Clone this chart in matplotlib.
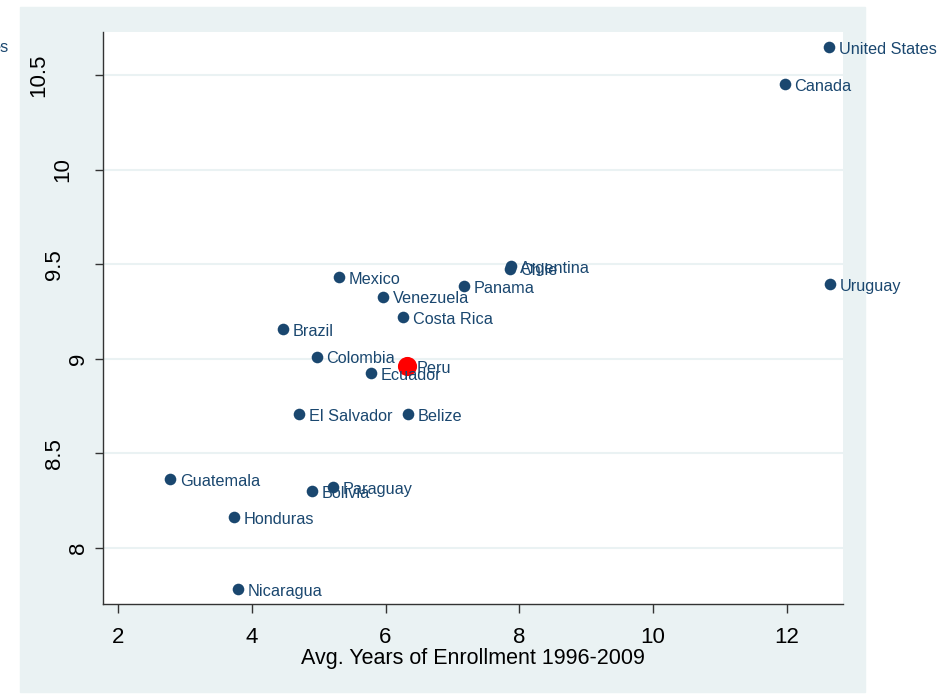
import matplotlib.pyplot as plt
from matplotlib.patches import Rectangle

# country data
countries = ["United States", "Canada", "Uruguay", "Argentina", "Chile", "Panama",
             "Mexico", "Venezuela", "Costa Rica", "Brazil", "Colombia", "Ecuador",
             "El Salvador", "Belize", "Guatemala", "Paraguay", "Bolivia", "Honduras",
             "Nicaragua"]
enroll = [12.63, 11.97, 12.64, 7.87, 7.86, 7.17, 5.30, 5.96, 6.26, 4.47, 4.97, 5.78,
          4.71, 6.33, 2.78, 5.21, 4.90, 3.73, 3.79]
value = [10.648, 10.452, 9.395, 9.488, 9.476, 9.385, 9.432, 9.327, 9.221, 9.157, 9.01,
         8.925, 8.708, 8.708, 8.365, 8.322, 8.301, 8.164, 7.783]

peru_x = [6.32]
peru_y = [8.962]

xticks = [2, 4, 6, 8, 10, 12]
yticks = [8, 8.5, 9, 9.5, 10, 10.5]
ylabels = ["8", "8.5", "9", "9.5", "10", "10.5"]

navy = "#1a476f"
bg = "#eaf2f3"
axcol = "#333333"

plt.rcParams["font.family"] = ["Liberation Sans", "DejaVu Sans"]

fig = plt.figure(figsize=(9.41, 6.95), dpi=100)
fig.add_artist(Rectangle((20 / 941, 3 / 695), 845 / 941, 685 / 695,
                         transform=fig.transFigure, color=bg, zorder=-5))

ax = fig.add_axes([103 / 941, 91 / 695, 740 / 941, 572 / 695])
ax.set_facecolor("white")

ax.scatter(enroll, value, s=70, color=navy, zorder=3, linewidths=0)
ax.scatter(peru_x, peru_y, s=190, color="red", zorder=4, linewidths=0)

for name, x, y in zip(countries, enroll, value):
    ax.annotate(name, (x, y), xytext=(7, -1.5), textcoords="offset points",
                ha="left", va="center", color=navy, fontsize=11.7,
                annotation_clip=False, zorder=5)
ax.annotate("Peru", (peru_x[0], peru_y[0]), xytext=(7, -1.5), textcoords="offset points",
            ha="left", va="center", color=navy, fontsize=11.7, zorder=5)

ax.set_xlim(1.776, 12.84)
ax.set_ylim(7.704, 10.727)
ax.set_xticks(xticks)
ax.set_yticks(yticks)
ax.set_xticklabels([str(t) for t in xticks])
ax.set_yticklabels([])

# stata-style rotated y labels: shifted left by their own width
for t, lab in zip(yticks, ylabels):
    w_px = 16 / 72 * 100 * (0.556 * sum(c.isdigit() for c in lab) + 0.278 * lab.count("."))
    off = -(8 + 1.3 * w_px) * 0.72
    ax.annotate(lab, (0, t), xycoords=ax.get_yaxis_transform(), xytext=(off, 0),
                textcoords="offset points", rotation=90, ha="center", va="center",
                fontsize=16, annotation_clip=False)

ax.grid(axis="y", color=bg, linewidth=1.5, zorder=1)
ax.set_axisbelow(True)
for s in ["top", "right"]:
    ax.spines[s].set_visible(False)
for s in ["left", "bottom"]:
    ax.spines[s].set_color(axcol)
    ax.spines[s].set_linewidth(1)

ax.tick_params(axis="x", length=6.5, width=1, color=axcol, labelsize=16, pad=10)
ax.tick_params(axis="y", length=5.8, width=1, color=axcol)

ax.set_xlabel("Avg. Years of Enrollment 1996-2009", fontsize=15.5, labelpad=0)

fig.text(9 / 941, 1 - 48 / 695, "es", ha="right", va="center", color=navy, fontsize=11.7)

fig.savefig("out.png", dpi=100)
